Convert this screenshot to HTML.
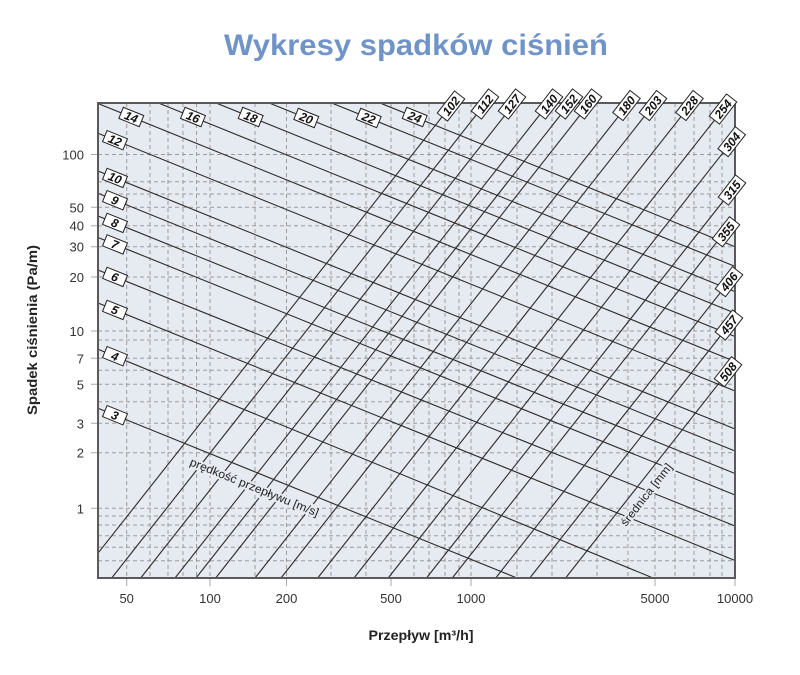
<!DOCTYPE html>
<html>
<head>
<meta charset="utf-8">
<style>
html,body{margin:0;padding:0;background:#fff;}
svg{display:block;}
.lab{font-family:"Liberation Sans",Arial,sans-serif;font-weight:bold;font-style:italic;font-size:12px;fill:#111;}
.tick{font-family:"Liberation Sans",Arial,sans-serif;font-size:13px;fill:#333;}
</style>
</head>
<body>
<svg width="800" height="675" viewBox="0 0 800 675" xmlns="http://www.w3.org/2000/svg">
<rect x="0" y="0" width="800" height="675" fill="#ffffff"/>
<text x="416" y="55" text-anchor="middle" font-family="Liberation Sans, Arial, sans-serif" font-weight="bold" font-size="30" fill="#7093c8" textLength="384" lengthAdjust="spacingAndGlyphs">Wykresy spadków ciśnień</text>

<rect x="98" y="103" width="637" height="475" fill="#e6eaf1"/>

<g stroke="#9c9c9c" stroke-width="1" stroke-dasharray="4 3" fill="none">
<path d="M126.7 103V578M150 103V578M168 103V578M183 103V578M196.5 103V578M210 103V578M255 103V578M286.5 103V578M331 103V578M366 103V578M391 103V578M414 103V578M429 103V578M445 103V578M459 103V578M471 103V578M517 103V578M552 103V578M597 103V578M628 103V578M655 103V578M675 103V578M694 103V578M710 103V578M722 103V578"/>
<path d="M98 154.5H735M98 181.7H735M98 194H735M98 207.3H735M98 225.7H735M98 246.7H735M98 277H735M98 331H735M98 340H735M98 358.3H735M98 370.3H735M98 384.3H735M98 401.7H735M98 423.3H735M98 452.7H735M98 508.3H735M98 516H735M98 525H735M98 535.7H735M98 547.3H735M98 560.7H735"/>
</g>

<g stroke="#a8a8a8" stroke-width="1">
<path d="M91 154.5H98M91 207.3H98M91 225.7H98M91 246.7H98M91 277H98M91 331H98M91 358.3H98M91 384.3H98M91 423.3H98M91 452.7H98M91 508.3H98"/>
<path d="M126.7 578V586M210 578V586M286.5 578V586M391 578V586M471 578V586M655 578V586M735 578V586"/>
</g>

<g stroke="#2b2b2b" stroke-width="1.1" fill="none">
<path d="M98 408.3L517 578"/>
<path d="M98 349.3L653 578"/>
<path d="M98 303L735 560.5"/>
<path d="M98 270L735 526"/>
<path d="M98 237.5L735 495"/>
<path d="M98 216L735 473.5"/>
<path d="M98 193.3L735 451"/>
<path d="M98 171L735 429"/>
<path d="M98 133.3L735 391"/>
<path d="M98 103.5L735 361.5"/>
<path d="M158.4 103L735 336.5"/>
<path d="M216.1 103L735 313.1"/>
<path d="M269.3 103L735 291.6"/>
<path d="M331.7 103L735 266.4"/>
<path d="M380.1 103L735 246.7"/>
</g>

<g stroke="#2b2b2b" stroke-width="1.1" fill="none">
<path d="M98 553.2L449 108"/>
<path d="M111.7 578L484 105"/>
<path d="M140.7 578L513 105"/>
<path d="M175 578L547.4 105"/>
<path d="M196 578L568.4 105"/>
<path d="M215.7 578L588 105"/>
<path d="M255 578L626.1 106.7"/>
<path d="M281 578L652 106.7"/>
<path d="M317.7 578L688.8 106.7"/>
<path d="M354 578L722.5 110"/>
<path d="M388.2 578L731.7 141.7"/>
<path d="M426.5 578L732 190"/>
<path d="M452.3 578L725 231.7"/>
<path d="M495.7 578L729 281.7"/>
<path d="M529.8 578L729 325"/>
<path d="M565.6 578L728 371.7"/>
</g>

<text transform="translate(189,465) rotate(22)" font-family="Liberation Sans, Arial, sans-serif" font-size="11.5" fill="#222" stroke="#e6eaf1" stroke-width="4" paint-order="stroke" textLength="138" lengthAdjust="spacingAndGlyphs">prędkość przepływu [m/s]</text>
<text transform="translate(626,527) rotate(-52)" font-family="Liberation Sans, Arial, sans-serif" font-size="11.5" fill="#222" stroke="#e6eaf1" stroke-width="4" paint-order="stroke" textLength="76" lengthAdjust="spacingAndGlyphs">średnica [mm]</text>

<g class="lab">
<g transform="translate(115,415.2) rotate(22)"><rect x="-11" y="-6" width="22" height="12" fill="#fff" stroke="#222" stroke-width="1"/><text x="0" y="4.3" text-anchor="middle">3</text></g>
<g transform="translate(115,356.2) rotate(22)"><rect x="-11" y="-6" width="22" height="12" fill="#fff" stroke="#222" stroke-width="1"/><text x="0" y="4.3" text-anchor="middle">4</text></g>
<g transform="translate(115,309.9) rotate(22)"><rect x="-11" y="-6" width="22" height="12" fill="#fff" stroke="#222" stroke-width="1"/><text x="0" y="4.3" text-anchor="middle">5</text></g>
<g transform="translate(115,276.9) rotate(22)"><rect x="-11" y="-6" width="22" height="12" fill="#fff" stroke="#222" stroke-width="1"/><text x="0" y="4.3" text-anchor="middle">6</text></g>
<g transform="translate(115,244.4) rotate(22)"><rect x="-11" y="-6" width="22" height="12" fill="#fff" stroke="#222" stroke-width="1"/><text x="0" y="4.3" text-anchor="middle">7</text></g>
<g transform="translate(115,222.9) rotate(22)"><rect x="-11" y="-6" width="22" height="12" fill="#fff" stroke="#222" stroke-width="1"/><text x="0" y="4.3" text-anchor="middle">8</text></g>
<g transform="translate(115,200.2) rotate(22)"><rect x="-11" y="-6" width="22" height="12" fill="#fff" stroke="#222" stroke-width="1"/><text x="0" y="4.3" text-anchor="middle">9</text></g>
<g transform="translate(115,177.9) rotate(22)"><rect x="-11" y="-6" width="22" height="12" fill="#fff" stroke="#222" stroke-width="1"/><text x="0" y="4.3" text-anchor="middle">10</text></g>
<g transform="translate(115,140.2) rotate(22)"><rect x="-11" y="-6" width="22" height="12" fill="#fff" stroke="#222" stroke-width="1"/><text x="0" y="4.3" text-anchor="middle">12</text></g>
<g transform="translate(131.3,117) rotate(22)"><rect x="-11" y="-6" width="22" height="12" fill="#fff" stroke="#222" stroke-width="1"/><text x="0" y="4.3" text-anchor="middle">14</text></g>
<g transform="translate(193,117) rotate(22)"><rect x="-11" y="-6" width="22" height="12" fill="#fff" stroke="#222" stroke-width="1"/><text x="0" y="4.3" text-anchor="middle">16</text></g>
<g transform="translate(250.7,117) rotate(22)"><rect x="-11" y="-6" width="22" height="12" fill="#fff" stroke="#222" stroke-width="1"/><text x="0" y="4.3" text-anchor="middle">18</text></g>
<g transform="translate(306.3,118) rotate(22)"><rect x="-11" y="-6" width="22" height="12" fill="#fff" stroke="#222" stroke-width="1"/><text x="0" y="4.3" text-anchor="middle">20</text></g>
<g transform="translate(368.7,118) rotate(22)"><rect x="-11" y="-6" width="22" height="12" fill="#fff" stroke="#222" stroke-width="1"/><text x="0" y="4.3" text-anchor="middle">22</text></g>
<g transform="translate(414.7,117) rotate(22)"><rect x="-11" y="-6" width="22" height="12" fill="#fff" stroke="#222" stroke-width="1"/><text x="0" y="4.3" text-anchor="middle">24</text></g>
</g>

<rect x="98" y="103" width="637" height="475" fill="none" stroke="#5a5a5a" stroke-width="2"/>

<g class="lab">
<g transform="translate(451,106) rotate(-52)"><rect x="-14" y="-6.5" width="28" height="13" fill="#fff" stroke="#222" stroke-width="1"/><text x="0" y="4.3" text-anchor="middle">102</text></g>
<g transform="translate(485,104) rotate(-52)"><rect x="-14" y="-6.5" width="28" height="13" fill="#fff" stroke="#222" stroke-width="1"/><text x="0" y="4.3" text-anchor="middle">112</text></g>
<g transform="translate(512,104) rotate(-52)"><rect x="-14" y="-6.5" width="28" height="13" fill="#fff" stroke="#222" stroke-width="1"/><text x="0" y="4.3" text-anchor="middle">127</text></g>
<g transform="translate(549,104) rotate(-52)"><rect x="-14" y="-6.5" width="28" height="13" fill="#fff" stroke="#222" stroke-width="1"/><text x="0" y="4.3" text-anchor="middle">140</text></g>
<g transform="translate(569,104) rotate(-52)"><rect x="-14" y="-6.5" width="28" height="13" fill="#fff" stroke="#222" stroke-width="1"/><text x="0" y="4.3" text-anchor="middle">152</text></g>
<g transform="translate(588,104) rotate(-52)"><rect x="-14" y="-6.5" width="28" height="13" fill="#fff" stroke="#222" stroke-width="1"/><text x="0" y="4.3" text-anchor="middle">160</text></g>
<g transform="translate(626.5,105.5) rotate(-52)"><rect x="-14" y="-6.5" width="28" height="13" fill="#fff" stroke="#222" stroke-width="1"/><text x="0" y="4.3" text-anchor="middle">180</text></g>
<g transform="translate(653,105.5) rotate(-52)"><rect x="-14" y="-6.5" width="28" height="13" fill="#fff" stroke="#222" stroke-width="1"/><text x="0" y="4.3" text-anchor="middle">203</text></g>
<g transform="translate(689.5,105.5) rotate(-52)"><rect x="-14" y="-6.5" width="28" height="13" fill="#fff" stroke="#222" stroke-width="1"/><text x="0" y="4.3" text-anchor="middle">228</text></g>
<g transform="translate(723,109) rotate(-52)"><rect x="-14" y="-6.5" width="28" height="13" fill="#fff" stroke="#222" stroke-width="1"/><text x="0" y="4.3" text-anchor="middle">254</text></g>
<g transform="translate(731.7,141.7) rotate(-52)"><rect x="-14" y="-6.5" width="28" height="13" fill="#fff" stroke="#222" stroke-width="1"/><text x="0" y="4.3" text-anchor="middle">304</text></g>
<g transform="translate(732,190) rotate(-52)"><rect x="-14" y="-6.5" width="28" height="13" fill="#fff" stroke="#222" stroke-width="1"/><text x="0" y="4.3" text-anchor="middle">315</text></g>
<g transform="translate(726,231.7) rotate(-52)"><rect x="-14" y="-6.5" width="28" height="13" fill="#fff" stroke="#222" stroke-width="1"/><text x="0" y="4.3" text-anchor="middle">355</text></g>
<g transform="translate(729,281.7) rotate(-52)"><rect x="-14" y="-6.5" width="28" height="13" fill="#fff" stroke="#222" stroke-width="1"/><text x="0" y="4.3" text-anchor="middle">406</text></g>
<g transform="translate(729,325) rotate(-52)"><rect x="-14" y="-6.5" width="28" height="13" fill="#fff" stroke="#222" stroke-width="1"/><text x="0" y="4.3" text-anchor="middle">457</text></g>
<g transform="translate(728,371.7) rotate(-52)"><rect x="-14" y="-6.5" width="28" height="13" fill="#fff" stroke="#222" stroke-width="1"/><text x="0" y="4.3" text-anchor="middle">508</text></g>
</g>

<g class="tick" text-anchor="end">
<text x="84" y="159.5">100</text>
<text x="84" y="212.3">50</text>
<text x="84" y="230.7">40</text>
<text x="84" y="251.7">30</text>
<text x="84" y="282">20</text>
<text x="84" y="336">10</text>
<text x="84" y="363.3">7</text>
<text x="84" y="389.3">5</text>
<text x="84" y="428.3">3</text>
<text x="84" y="457.7">2</text>
<text x="84" y="513.3">1</text>
</g>

<g class="tick" text-anchor="middle">
<text x="126.7" y="603">50</text>
<text x="210" y="603">100</text>
<text x="286.5" y="603">200</text>
<text x="391" y="603">500</text>
<text x="471" y="603">1000</text>
<text x="655" y="603">5000</text>
<text x="735" y="603">10000</text>
</g>

<text x="421" y="640" text-anchor="middle" font-family="Liberation Sans, Arial, sans-serif" font-weight="bold" font-size="14" fill="#222" textLength="105" lengthAdjust="spacingAndGlyphs">Przepływ [m³/h]</text>
<text transform="translate(37,330) rotate(-90)" text-anchor="middle" font-family="Liberation Sans, Arial, sans-serif" font-weight="bold" font-size="14" fill="#222" textLength="170" lengthAdjust="spacingAndGlyphs">Spadek ciśnienia (Pa/m)</text>
</svg>
</body>
</html>
